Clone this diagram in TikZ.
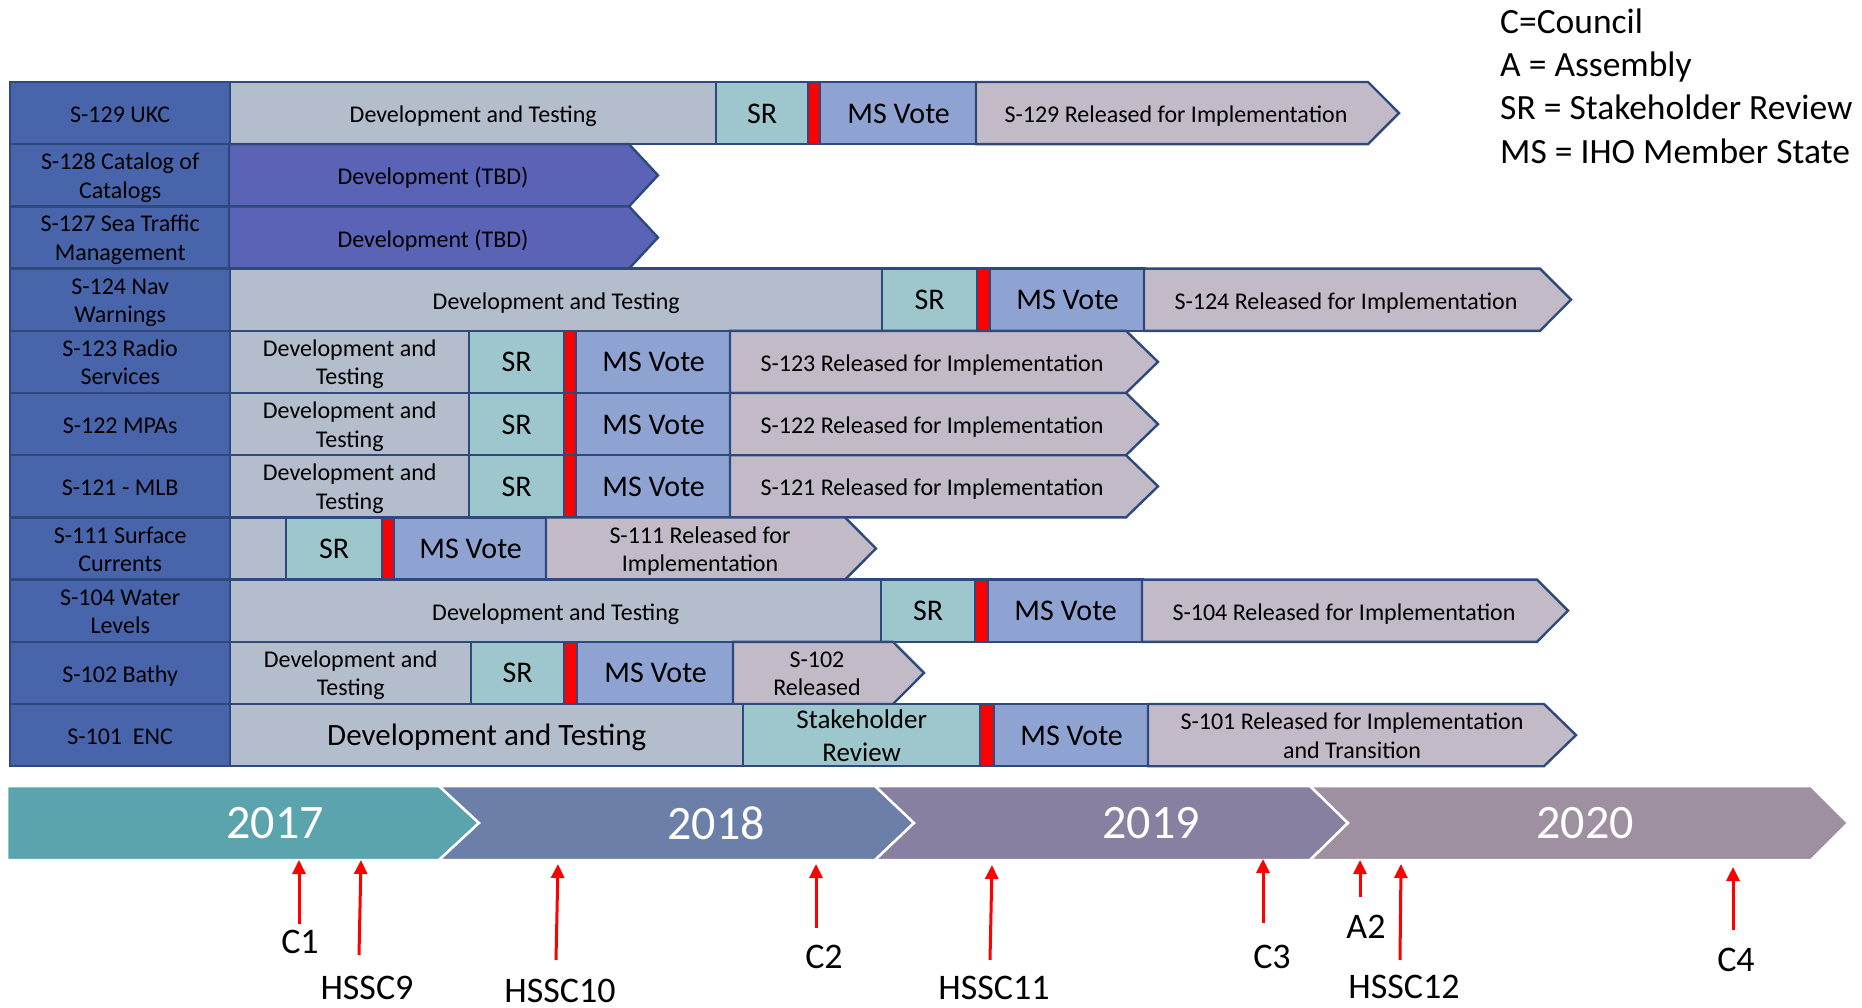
\documentclass[tikz,border=0pt]{standalone}
\usepackage{fontspec}
\setmainfont{Carlito}
\usepackage{tikz}
\usetikzlibrary{arrows.meta}
\definecolor{prodblue}{HTML}{4865AC}
\definecolor{devgray}{HTML}{B3BDCC}
\definecolor{tbdblue}{HTML}{5B63B7}
\definecolor{srteal}{HTML}{9DC7CD}
\definecolor{voteblue}{HTML}{8EA3D2}
\definecolor{relmauve}{HTML}{C3BAC8}
\definecolor{edge}{HTML}{2E4A7D}
\definecolor{yr17}{HTML}{5BA4AE}
\definecolor{yr18}{HTML}{6C7FA8}
\definecolor{yr19}{HTML}{8880A1}
\definecolor{yr20}{HTML}{9E90A0}
\begin{document}
\begin{tikzpicture}[x=1pt, y=-1pt,
    cell/.style={
      draw=edge,
      line width=2.4pt,
      anchor=west,
      minimum height=62.2pt,
      inner sep=0pt,
      align=center,
      text height=19.2pt,
      text depth=0pt,
      font=\fontsize{24}{28.5}\selectfont},
    twoline/.style={text height=46pt, text depth=0pt},
    prod/.style={cell, fill=prodblue},
    dev/.style={cell, fill=devgray},
    sr/.style={cell, fill=srteal, text height=20pt, font=\fontsize{30}{33}\selectfont},
    holdbar/.style={cell, fill=red},
    vote/.style={cell, fill=voteblue, text height=20pt, font=\fontsize{30}{33}\selectfont},
    big/.style={text height=20.5pt, font=\fontsize{31}{33}\selectfont},
    relcell/.style={draw=edge, line width=2.4pt, fill=relmauve},
    tbdcell/.style={relcell, fill=tbdblue},
    reltext/.style={inner sep=0pt, align=center, text height=19.2pt, text depth=0pt,
      font=\fontsize{24}{28.5}\selectfont},
    yearband/.style={draw=white, line width=2.5pt},
    yeartext/.style={text=white, inner sep=0pt, font=\fontsize{48}{48}\selectfont},
    cue/.style={red, line width=3pt, -{Triangle[length=14pt, width=13pt]}},
    cuetext/.style={inner sep=0pt, font=\fontsize{36}{36}\selectfont},
    keytext/.style={anchor=base west, inner sep=0pt, font=\fontsize{35.5}{40}\selectfont}
  ]
  \useasboundingbox (0,0) rectangle (1862,1008);

  % legend
  \node[keytext] (key1) at (1500,33.3) {C=Council};
  \node[keytext] (key2) at (1500,76.6) {A = Assembly};
  \node[keytext] (key3) at (1500,120) {SR = Stakeholder Review};
  \node[keytext] (key4) at (1500,163.3) {MS = IHO Member State};

  % S-129
  \node[prod, minimum width=220] (p129) at (9,113.1) {S-129 UKC};
  \node[dev, minimum width=486] (d129) at (229,113.1) {Development and Testing};
  \node[sr, minimum width=92] (s129) at (715,113.1) {SR};
  \node[holdbar, minimum width=12] (h129) at (807,113.1) {};
  \node[vote, minimum width=157] (v129) at (819,113.1) {MS Vote};
  \filldraw[relcell] (976,82) -- (1368,82) -- (1399,113.1) -- (1368,144.2) -- (976,144.2) -- cycle;
  \node[reltext] (r129) at (1176,113.1) {S-129 Released for Implementation};

  % S-128
  \node[prod, twoline, minimum width=220] (p128) at (9,175.3) {S-128 Catalog of\\Catalogs};
  \filldraw[tbdcell] (229,144.2) -- (629,144.2) -- (658,175.3) -- (629,206.4) -- (229,206.4) -- cycle;
  \node[reltext] (t128) at (433,175.3) {Development (TBD)};

  % S-127
  \node[prod, twoline, minimum width=220] (p127) at (9,237.5) {S-127 Sea Traffic\\Management};
  \filldraw[tbdcell] (229,206.4) -- (629,206.4) -- (658,237.5) -- (629,268.6) -- (229,268.6) -- cycle;
  \node[reltext] (t127) at (433,237.5) {Development (TBD)};

  % S-124
  \node[prod, twoline, minimum width=220] (p124) at (9,299.7) {S-124 Nav\\Warnings};
  \node[dev, minimum width=652] (d124) at (229,299.7) {Development and Testing};
  \node[sr, minimum width=95] (s124) at (881,299.7) {SR};
  \node[holdbar, minimum width=13] (h124) at (976,299.7) {};
  \node[vote, minimum width=155] (v124) at (989,299.7) {MS Vote};
  \filldraw[relcell] (1144,268.6) -- (1540,268.6) -- (1571,299.7) -- (1540,330.8) -- (1144,330.8) -- cycle;
  \node[reltext] (r124) at (1346,299.7) {S-124 Released for Implementation};

  % S-123
  \node[prod, twoline, minimum width=220] (p123) at (9,361.9) {S-123 Radio\\Services};
  \node[dev, twoline, minimum width=239] (d123) at (229,361.9) {Development and\\Testing};
  \node[sr, minimum width=95] (s123) at (468,361.9) {SR};
  \node[holdbar, minimum width=12] (h123) at (563,361.9) {};
  \node[vote, minimum width=155] (v123) at (575,361.9) {MS Vote};
  \filldraw[relcell] (730,330.8) -- (1126,330.8) -- (1158,361.9) -- (1126,393) -- (730,393) -- cycle;
  \node[reltext] (r123) at (932,361.9) {S-123 Released for Implementation};

  % S-122
  \node[prod, minimum width=220] (p122) at (9,424.1) {S-122 MPAs};
  \node[dev, twoline, minimum width=239] (d122) at (229,424.1) {Development and\\Testing};
  \node[sr, minimum width=95] (s122) at (468,424.1) {SR};
  \node[holdbar, minimum width=12] (h122) at (563,424.1) {};
  \node[vote, minimum width=155] (v122) at (575,424.1) {MS Vote};
  \filldraw[relcell] (730,393) -- (1126,393) -- (1158,424.1) -- (1126,455.2) -- (730,455.2) -- cycle;
  \node[reltext] (r122) at (932,424.1) {S-122 Released for Implementation};

  % S-121
  \node[prod, minimum width=220] (p121) at (9,486.3) {S-121 - MLB};
  \node[dev, twoline, minimum width=239] (d121) at (229,486.3) {Development and\\Testing};
  \node[sr, minimum width=95] (s121) at (468,486.3) {SR};
  \node[holdbar, minimum width=12] (h121) at (563,486.3) {};
  \node[vote, minimum width=155] (v121) at (575,486.3) {MS Vote};
  \filldraw[relcell] (730,455.2) -- (1126,455.2) -- (1158,486.3) -- (1126,517.4) -- (730,517.4) -- cycle;
  \node[reltext] (r121) at (932,486.3) {S-121 Released for Implementation};

  % S-111
  \node[prod, twoline, minimum width=220] (p111) at (9,548.5) {S-111 Surface\\Currents};
  \node[dev, minimum width=56] (d111) at (229,548.5) {};
  \node[sr, minimum width=96] (s111) at (285,548.5) {SR};
  \node[holdbar, minimum width=12] (h111) at (381,548.5) {};
  \node[vote, minimum width=153] (v111) at (393,548.5) {MS Vote};
  \filldraw[relcell] (546,517.4) -- (845,517.4) -- (876,548.5) -- (845,579.6) -- (546,579.6) -- cycle;
  \node[reltext, twoline] (r111) at (700,548.5) {S-111 Released for\\Implementation};

  % S-104
  \node[prod, twoline, minimum width=220] (p104) at (9,610.7) {S-104 Water\\Levels};
  \node[dev, minimum width=651] (d104) at (229,610.7) {Development and Testing};
  \node[sr, minimum width=94] (s104) at (880,610.7) {SR};
  \node[holdbar, minimum width=13] (h104) at (974,610.7) {};
  \node[vote, minimum width=155] (v104) at (987,610.7) {MS Vote};
  \filldraw[relcell] (1142,579.6) -- (1537,579.6) -- (1568,610.7) -- (1537,641.8) -- (1142,641.8) -- cycle;
  \node[reltext] (r104) at (1344,610.7) {S-104 Released for Implementation};

  % S-102
  \node[prod, minimum width=220] (p102) at (9,672.9) {S-102 Bathy};
  \node[dev, twoline, minimum width=241] (d102) at (229,672.9) {Development and\\Testing};
  \node[sr, minimum width=93] (s102) at (470,672.9) {SR};
  \node[holdbar, minimum width=13] (h102) at (563,672.9) {};
  \node[vote, minimum width=157] (v102) at (576,672.9) {MS Vote};
  \filldraw[relcell] (733,641.8) -- (893,641.8) -- (924,672.9) -- (893,704) -- (733,704) -- cycle;
  \node[reltext, twoline] (r102) at (817,672.9) {S-102\\Released};

  % S-101
  \node[prod, minimum width=220] (p101) at (9,735.1) {S-101\ \ ENC};
  \node[dev, big, minimum width=513] (d101) at (229,735.1) {Development and Testing};
  \node[sr, minimum width=237, text height=52pt, font=\fontsize{27}{33}\selectfont] (s101) at (742,735.1) {Stakeholder\\Review};
  \node[holdbar, minimum width=14] (h101) at (979,735.1) {};
  \node[vote, minimum width=155] (v101) at (993,735.1) {MS Vote};
  \filldraw[relcell] (1148,704) -- (1544,704) -- (1576,735.1) -- (1544,766.2) -- (1148,766.2) -- cycle;
  \node[reltext, twoline] (r101) at (1352,735.1) {S-101 Released for Implementation\\and Transition};

  % years
  \filldraw[yearband, fill=yr17] (7,786) -- (439,786) -- (479,823) -- (439,860) -- (7,860) -- cycle;
  \filldraw[yearband, fill=yr18] (439,786) -- (875,786) -- (914,823) -- (875,860) -- (439,860) -- (479,823) -- cycle;
  \filldraw[yearband, fill=yr19] (875,786) -- (1310,786) -- (1348,823) -- (1310,860) -- (875,860) -- (914,823) -- cycle;
  \filldraw[yearband, fill=yr20] (1310,786) -- (1811,786) -- (1848,823) -- (1811,860) -- (1310,860) -- (1348,823) -- cycle;
  \node[yeartext] (y2017) at (275,823) {2017};
  \node[yeartext] (y2018) at (716,823) {2018};
  \node[yeartext] (y2019) at (1151,823) {2019};
  \node[yeartext] (y2020) at (1585,823) {2020};

  % meetings
  \node[cuetext] (c1) at (300,942) {C1};
  \node[cuetext] (hssc9) at (367,988) {HSSC9};
  \node[cuetext] (hssc10) at (560,991) {HSSC10};
  \node[cuetext] (c2) at (824,957) {C2};
  \node[cuetext] (hssc11) at (994,988) {HSSC11};
  \node[cuetext] (c3) at (1272,957) {C3};
  \node[cuetext] (a2) at (1366,927) {A2};
  \node[cuetext] (hssc12) at (1404,987) {HSSC12};
  \node[cuetext] (c4) at (1736,960) {C4};
  \coordinate (c1a) at (299,924);       \coordinate (c1b) at (299,860);
  \coordinate (hssc9a) at (359,955);    \coordinate (hssc9b) at (361,860);
  \coordinate (hssc10a) at (556,960);   \coordinate (hssc10b) at (558,864);
  \coordinate (c2a) at (816,928);       \coordinate (c2b) at (816,864);
  \coordinate (hssc11a) at (990,960);   \coordinate (hssc11b) at (992,865);
  \coordinate (c3a) at (1263,923);      \coordinate (c3b) at (1263,859);
  \coordinate (a2a) at (1360,897);      \coordinate (a2b) at (1360,860);
  \coordinate (hssc12a) at (1400,960);  \coordinate (hssc12b) at (1401,864);
  \coordinate (c4a) at (1733,930);      \coordinate (c4b) at (1733,867);
  \draw[cue] (c1a) -- (c1b);
  \draw[cue] (hssc9a) -- (hssc9b);
  \draw[cue] (hssc10a) -- (hssc10b);
  \draw[cue] (c2a) -- (c2b);
  \draw[cue] (hssc11a) -- (hssc11b);
  \draw[cue] (c3a) -- (c3b);
  \draw[cue] (a2a) -- (a2b);
  \draw[cue] (hssc12a) -- (hssc12b);
  \draw[cue] (c4a) -- (c4b);
\end{tikzpicture}
\end{document}
